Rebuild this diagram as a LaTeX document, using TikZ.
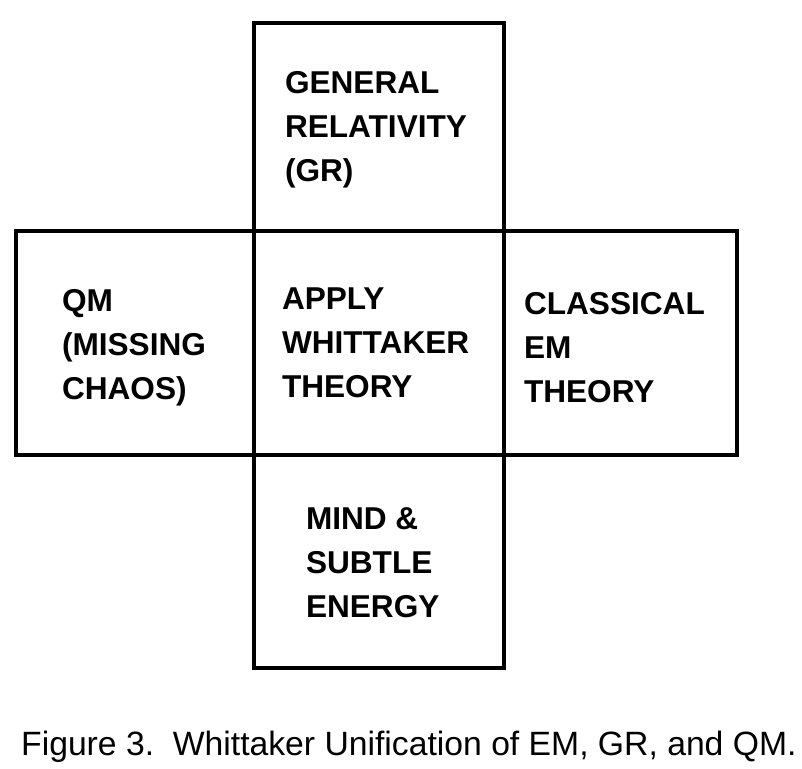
\documentclass[tikz,border=0pt]{standalone}
\usepackage{fontspec}
\setmainfont{Liberation Sans}
\begin{document}
\begin{tikzpicture}[x=1pt,y=-1pt,
  box/.style={draw=black, line width=4pt, rectangle, inner sep=0pt, outer sep=0pt},
  lbl/.style={anchor=base west, inner sep=0pt, outer sep=0pt, align=left,
    font=\fontsize{31.6}{44}\selectfont\bfseries},
  captext/.style={anchor=base west, inner sep=0pt, font=\fontsize{33.7}{40}\selectfont}]
\useasboundingbox (0,0) rectangle (802,768);
\node[box, minimum width=250pt, minimum height=208pt] (gr) at (379,127) {};
\node[box, minimum width=238pt, minimum height=224pt] (qm) at (135,343) {};
\node[box, minimum width=250pt, minimum height=224pt] (wt) at (379,343) {};
\node[box, minimum width=233pt, minimum height=224pt] (em) at (620.5,343) {};
\node[box, minimum width=250pt, minimum height=213pt] (mind) at (379,561.5) {};
% base anchor of a multi-line node = baseline of its last line
\node[lbl] (grt) at (285,181) {GENERAL\\RELATIVITY\\(GR)};
\node[lbl] (qmt) at (62,399) {QM\\(MISSING\\CHAOS)};
\node[lbl] (wtt) at (282,397) {APPLY\\WHITTAKER\\THEORY};
\node[lbl] (emt) at (524,402) {CLASSICAL\\EM\\THEORY};
\node[lbl] (mindt) at (306,617) {MIND \&\\SUBTLE\\ENERGY};
\node[captext] (caption) at (21,755) {Figure 3.\ \ Whittaker Unification of EM, GR, and QM.};
\end{tikzpicture}
\end{document}
